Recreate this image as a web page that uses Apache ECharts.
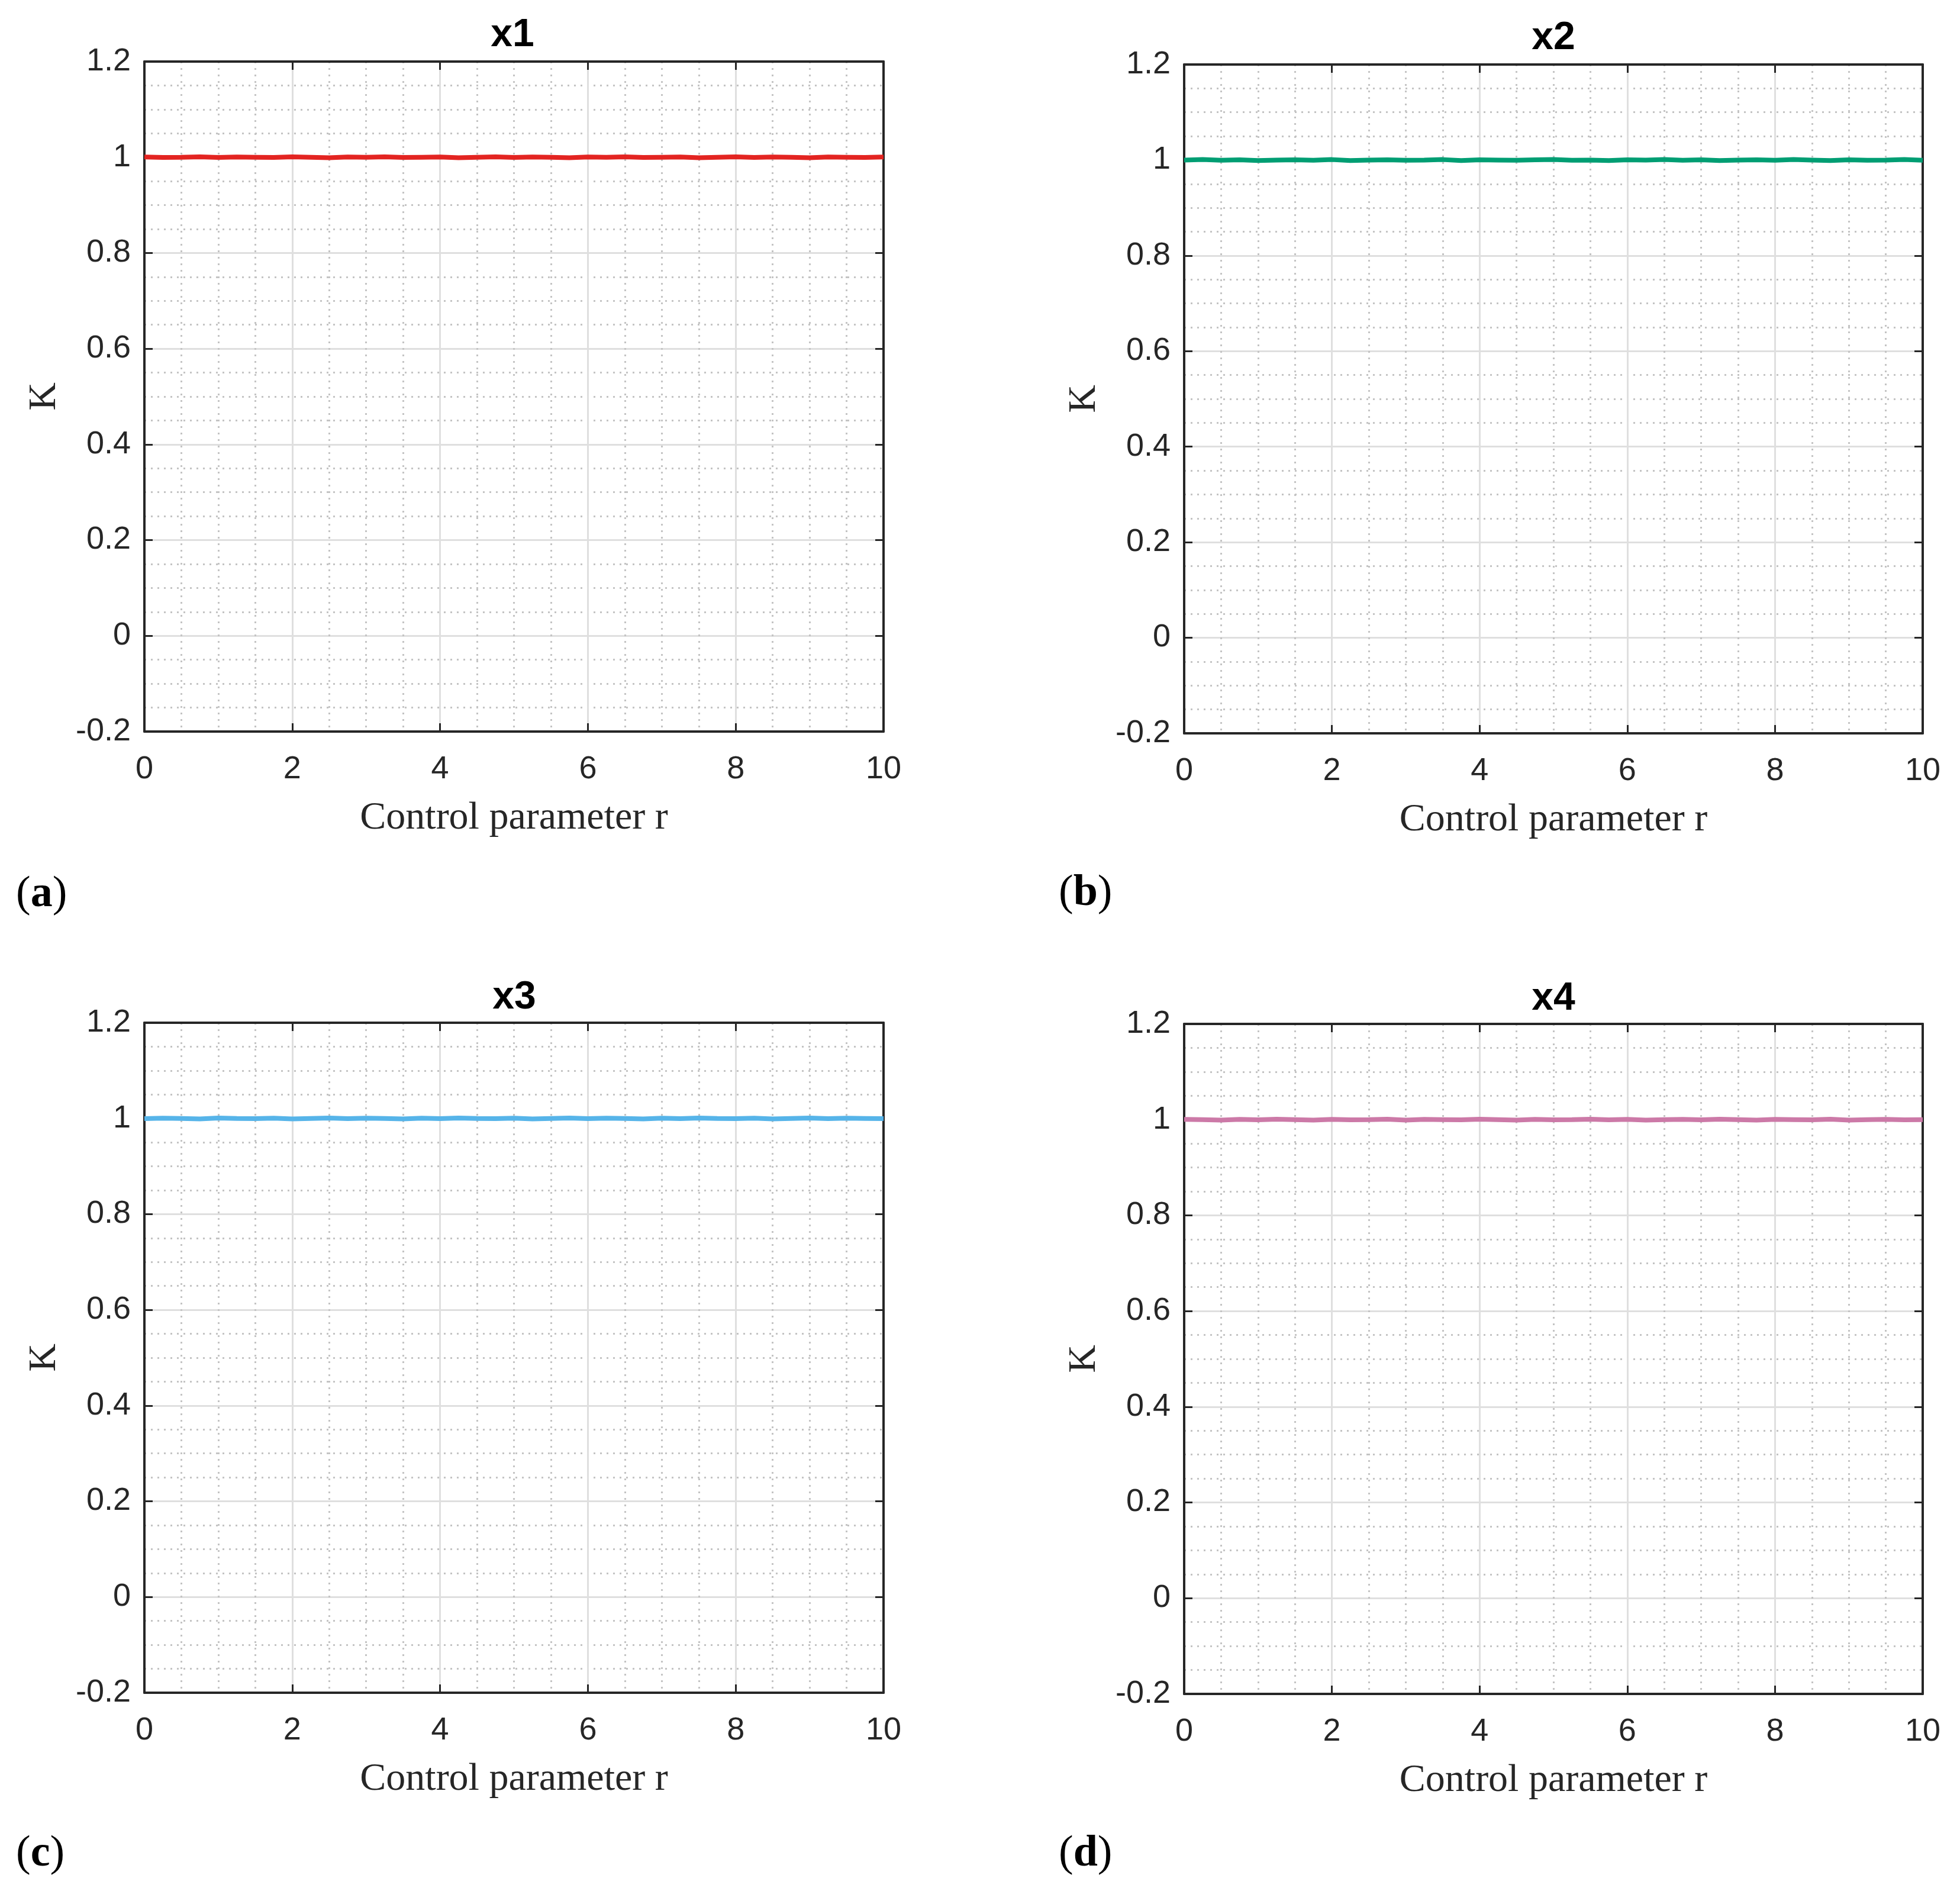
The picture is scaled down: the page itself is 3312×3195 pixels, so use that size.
<!DOCTYPE html>
<html>
<head>
<meta charset="utf-8">
<script src="https://cdn.jsdelivr.net/npm/echarts@6/dist/echarts.min.js"></script>
<style>
html, body { margin: 0; padding: 0; background: #ffffff; }
#chart { width: 3312px; height: 3195px; }
</style>
</head>
<body>
<div id="chart"></div>
<script>
// control parameter r
var rValues = [0, 0.25, 0.5, 0.75, 1, 1.25, 1.5, 1.75, 2, 2.25,
    2.5, 2.75, 3, 3.25, 3.5, 3.75, 4, 4.25, 4.5, 4.75,
    5, 5.25, 5.5, 5.75, 6, 6.25, 6.5, 6.75, 7, 7.25,
    7.5, 7.75, 8, 8.25, 8.5, 8.75, 9, 9.25, 9.5, 9.75,
    10];

// K for x1..x4
var k1 = [1.0005, 0.9995, 1.000, 1.001, 0.9995, 1.0005, 1.000, 0.9995, 1.001, 1.000,
    0.999, 1.0005, 1.000, 1.001, 0.9995, 1.000, 1.0005, 0.999, 1.000, 1.001,
    0.9995, 1.0005, 1.000, 0.999, 1.0005, 1.000, 1.001, 0.9995, 1.000, 1.0005,
    0.999, 1.000, 1.001, 0.9995, 1.0005, 1.000, 0.999, 1.0005, 1.000, 0.9995,
    1.0005];
var k2 = [1.000, 1.001, 0.9995, 1.0005, 0.999, 1.000, 1.0005, 0.9995, 1.001, 0.999,
    1.000, 1.0005, 0.9995, 1.000, 1.001, 0.999, 1.0005, 1.000, 0.9995, 1.0005,
    1.001, 0.9995, 1.000, 0.999, 1.0005, 1.000, 1.001, 0.9995, 1.0005, 0.999,
    1.000, 1.0005, 0.9995, 1.001, 1.000, 0.999, 1.0005, 0.9995, 1.000, 1.001,
    0.9995];
var k3 = [0.9995, 1.0005, 1.000, 0.999, 1.001, 1.000, 0.9995, 1.0005, 0.999, 1.000,
    1.001, 0.9995, 1.0005, 1.000, 0.999, 1.0005, 0.9995, 1.001, 1.000, 0.9995,
    1.0005, 0.999, 1.000, 1.001, 0.9995, 1.0005, 1.000, 0.999, 1.0005, 0.9995,
    1.001, 1.000, 0.9995, 1.0005, 0.999, 1.000, 1.001, 0.9995, 1.0005, 1.000,
    0.9995];
var k4 = [1.0005, 1.000, 0.999, 1.0005, 0.9995, 1.001, 1.000, 0.999, 1.0005, 0.9995,
    1.000, 1.001, 0.999, 1.0005, 1.000, 0.9995, 1.001, 1.000, 0.999, 1.0005,
    0.9995, 1.000, 1.001, 0.9995, 1.0005, 0.999, 1.000, 1.0005, 0.9995, 1.001,
    1.000, 0.999, 1.0005, 1.000, 0.9995, 1.001, 0.999, 1.000, 1.0005, 0.9995,
    1.000];

var xTicks = [0, 2, 4, 6, 8, 10];
var yTicks = [-0.2, 0, 0.2, 0.4, 0.6, 0.8, 1, 1.2];
var panelTitles = ["x1", "x2", "x3", "x4"];
var panelLetters = ["a", "b", "c", "d"];
var seriesData = [k1, k2, k3, k4];
var lineColors = ["#e32421", "#009e73", "#56b4e9", "#cc79a7"];

var axisColor = "#262626";
var grids = [
    { left: 244, top: 104, width: 1249, height: 1132 },
    { left: 2001, top: 109, width: 1248, height: 1130 },
    { left: 244, top: 1728, width: 1249, height: 1132 },
    { left: 2001, top: 1730, width: 1248, height: 1132 }
];
var titlePos = [[866, 60], [2625, 65], [869, 1686], [2625, 1688]];
var letterPos = [[27, 1512], [1789, 1510], [27, 3133], [1789, 3133]];

var xAxes = [], yAxes = [], series = [], graphics = [];

for (var i = 0; i < 4; i++) {
    var tickLine = { show: true, inside: true, length: 14, lineStyle: { color: axisColor, width: 3 } };
    var boxLine = { show: true, onZero: false, lineStyle: { color: axisColor, width: 4 } };

    // bottom x axis
    xAxes.push({
        type: "value", gridIndex: i, position: "bottom",
        min: xTicks[0], max: xTicks[xTicks.length - 1], interval: xTicks[1] - xTicks[0],
        name: "Control parameter r", nameLocation: "middle", nameGap: 114,
        nameTextStyle: { fontFamily: "Liberation Serif", fontSize: 66, color: axisColor },
        axisLine: boxLine, axisTick: tickLine,
        axisLabel: { margin: 37, fontFamily: "Liberation Sans", fontSize: 54, color: axisColor },
        splitLine: { show: true, lineStyle: { color: "#dfdfdf", width: 3 } },
        minorTick: { show: false, splitNumber: 4 },
        minorSplitLine: { show: true, lineStyle: { color: "#c4c4c4", width: 3, type: [3, 8] } }
    });
    // top mirror
    xAxes.push({
        type: "value", gridIndex: i, position: "top",
        min: xTicks[0], max: xTicks[xTicks.length - 1], interval: xTicks[1] - xTicks[0],
        axisLine: boxLine, axisTick: tickLine,
        axisLabel: { show: false }, splitLine: { show: false }
    });
    // left y axis
    yAxes.push({
        type: "value", gridIndex: i, position: "left",
        min: yTicks[0], max: yTicks[yTicks.length - 1], interval: 0.2,
        name: "K", nameLocation: "middle", nameGap: 135,
        nameTextStyle: { fontFamily: "Liberation Serif", fontSize: 66, color: axisColor },
        axisLine: boxLine, axisTick: tickLine,
        axisLabel: { margin: 23, fontFamily: "Liberation Sans", fontSize: 54, color: axisColor },
        splitLine: { show: true, lineStyle: { color: "#dfdfdf", width: 3 } },
        minorTick: { show: false, splitNumber: 4 },
        minorSplitLine: { show: true, lineStyle: { color: "#c4c4c4", width: 3, type: [3, 8] } }
    });
    // right mirror
    yAxes.push({
        type: "value", gridIndex: i, position: "right",
        min: yTicks[0], max: yTicks[yTicks.length - 1], interval: 0.2,
        axisLine: boxLine, axisTick: tickLine,
        axisLabel: { show: false }, splitLine: { show: false }
    });

    var pts = [];
    for (var j = 0; j < rValues.length; j++) {
        pts.push([rValues[j], seriesData[i][j]]);
    }
    series.push({
        name: panelTitles[i], type: "line",
        xAxisIndex: 2 * i, yAxisIndex: 2 * i,
        data: pts, showSymbol: false,
        lineStyle: { color: lineColors[i], width: 8 }
    });

    graphics.push({
        type: "text", x: titlePos[i][0], y: titlePos[i][1],
        style: {
            text: panelTitles[i], fontFamily: "Liberation Sans", fontWeight: "bold",
            fontSize: 66, fill: "#000000", align: "center", verticalAlign: "middle"
        }
    });
    graphics.push({
        type: "text", x: letterPos[i][0], y: letterPos[i][1],
        style: {
            text: "{p|(}{b|" + panelLetters[i] + "}{p|)}",
            align: "left", verticalAlign: "middle",
            rich: {
                p: { fontFamily: "Liberation Serif", fontSize: 74, fill: "#000000" },
                b: { fontFamily: "Liberation Serif", fontSize: 74, fontWeight: "bold", fill: "#000000" }
            }
        }
    });
}

var myChart = echarts.init(document.getElementById("chart"));
var option = {
    animation: false,
    backgroundColor: "#ffffff",
    grid: grids,
    xAxis: xAxes,
    yAxis: yAxes,
    series: series,
    graphic: graphics
};
myChart.setOption(option);
</script>
</body>
</html>
